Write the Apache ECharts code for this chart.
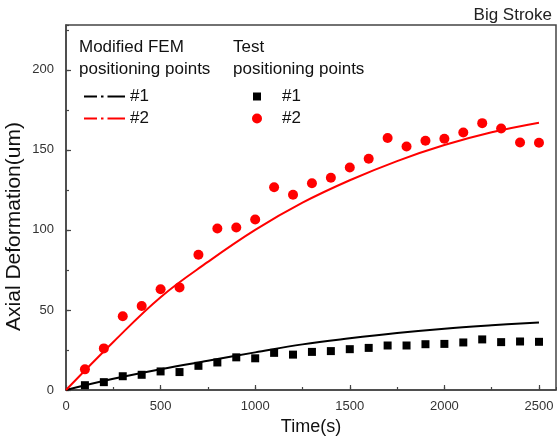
<!DOCTYPE html>
<html>
<head>
<meta charset="utf-8">
<script src="https://cdn.jsdelivr.net/npm/echarts@6/dist/echarts.min.js"></script>
<style>html,body{margin:0;padding:0;background:#fff;}#c{width:557px;height:446px;}</style>
</head>
<body>
<div id="c"></div>
<script>
// ---- data ----
const femTime = [0, 250, 500, 750, 1000, 1250, 1500, 1750, 2000, 2250, 2500];
const femP1 = [0, 7, 13, 18.3, 23.5, 28.5, 32.3, 35.6, 38.3, 40.4, 42.2];
const femP2 = [0, 30, 58, 80, 100, 117, 131, 143, 153, 161, 167];
const testTime = [100, 200, 300, 400, 500, 600, 700, 800, 900, 1000, 1100, 1200, 1300, 1400, 1500, 1600, 1700, 1800, 1900, 2000, 2100, 2200, 2300, 2400, 2500];
const testP1 = [3, 4.9, 8.6, 9.5, 11.6, 11.2, 15.1, 17.2, 20.4, 19.8, 23.2, 22.1, 23.8, 24.3, 25.5, 26.3, 27.8, 27.8, 28.6, 28.8, 29.7, 31.6, 29.9, 30.3, 30.1];
const testP2 = [12.9, 26, 46.1, 52.5, 62.9, 64.1, 84.5, 100.9, 101.5, 106.5, 126.6, 122, 129.1, 132.6, 139, 144.5, 157.4, 152.1, 155.7, 156.9, 160.8, 166.7, 163.3, 154.6, 154.4];
const xTicks = [0, 500, 1000, 1500, 2000, 2500];
const yTicks = [0, 50, 100, 150, 200];
const seriesNames = ['FEM #1', 'FEM #2', 'Test #1', 'Test #2'];
const colHeaders = ['Modified FEM\npositioning points', 'Test\npositioning points'];
const chartTitle = 'Big Stroke';
const xName = 'Time(s)';
const yName = 'Axial Deformation(um)';

const FONT = 'Liberation Sans, Arial, sans-serif';
const zip = (a, b) => a.map((v, i) => [v, b[i]]);
const X_MAX = 2590, Y_MAX = 228;

const chart = echarts.init(document.getElementById('c'), null, { renderer: 'canvas' });
const axisCol = '#444';
const shortName = n => n.replace(/^.*\s/, '');
const dashDotIcon = 'path://M0,0h13v2h-13zM17,0h2.5v2h-2.5zM23.5,0h17.5v2h-17.5z';

const option = {
  animation: false,
  backgroundColor: '#fff',
  title: {
    text: chartTitle, right: 0, top: 2,
    textStyle: { fontFamily: FONT, fontSize: 17, fontWeight: 'normal', color: '#222' }
  },
  grid: { left: 66, right: 1, top: 25, bottom: 56, show: true, borderColor: axisCol, borderWidth: 1.5,
    backgroundColor: 'transparent', containLabel: false, outerBoundsMode: 'none' },
  graphic: [
    { type: 'text', left: 79, top: 36, style: { text: colHeaders[0], fontSize: 17, fontFamily: FONT, lineHeight: 22.5, fill: '#111' } },
    { type: 'text', left: 233, top: 36, style: { text: colHeaders[1], fontSize: 17, fontFamily: FONT, lineHeight: 22.5, fill: '#111' } }
  ],
  legend: [
    {
      data: [{ name: seriesNames[0], icon: dashDotIcon }, { name: seriesNames[1], icon: dashDotIcon }],
      orient: 'vertical', left: 79, top: 83, itemGap: 5,
      itemWidth: 41, itemHeight: 2, formatter: shortName,
      textStyle: { fontFamily: FONT, fontSize: 17, color: '#111' }
    },
    {
      data: [{ name: seriesNames[2], icon: 'rect' }], left: 248, top: 83,
      itemWidth: 8, itemHeight: 8, formatter: shortName,
      textStyle: { fontFamily: FONT, fontSize: 17, color: '#111', padding: [0, 0, 0, 16] }
    },
    {
      data: [{ name: seriesNames[3], icon: 'circle' }], left: 247, top: 105,
      itemWidth: 10, itemHeight: 10, formatter: shortName,
      textStyle: { fontFamily: FONT, fontSize: 17, color: '#111', padding: [0, 0, 0, 15] }
    }
  ],
  xAxis: [
    {
      type: 'value', min: 0, max: X_MAX, interval: 500, position: 'bottom',
      name: xName, nameLocation: 'middle', nameGap: 28,
      nameTextStyle: { fontFamily: FONT, fontSize: 18, color: '#111' },
      axisLine: { show: true, lineStyle: { color: axisCol, width: 1.5 } },
      axisTick: { show: true, inside: true, length: 5, lineStyle: { color: axisCol, width: 1.2 } },
      axisLabel: { margin: 10, fontFamily: FONT, fontSize: 13, color: '#333', showMaxLabel: false,
        formatter: v => (xTicks.indexOf(v) >= 0 ? String(v) : '') },
      splitLine: { show: false }
    },
    {
      type: 'value', min: 0, max: X_MAX, interval: 250, position: 'bottom',
      axisLine: { show: false },
      axisTick: { show: true, inside: true, length: 3, lineStyle: { color: axisCol, width: 1.2 } },
      axisLabel: { show: false }, splitLine: { show: false }
    }
  ],
  yAxis: [
    {
      type: 'value', min: 0, max: Y_MAX, interval: 50, position: 'left',
      name: yName, nameLocation: 'middle', nameGap: 41, nameRotate: 90, nameMoveOverlap: false,
      nameTextStyle: { fontFamily: FONT, fontSize: 21, color: '#111', padding: [0, 38, 0, 0] },
      axisLine: { show: true, lineStyle: { color: axisCol, width: 1.5 } },
      axisTick: { show: true, inside: true, length: 5, lineStyle: { color: axisCol, width: 1.2 } },
      axisLabel: { margin: 12, fontFamily: FONT, fontSize: 13, color: '#333', showMaxLabel: false,
        formatter: v => (yTicks.indexOf(v) >= 0 ? String(v) : '') },
      splitLine: { show: false }
    },
    {
      type: 'value', min: 0, max: Y_MAX, interval: 25, position: 'left',
      axisLine: { show: false },
      axisTick: { show: true, inside: true, length: 3, lineStyle: { color: axisCol, width: 1.2 } },
      axisLabel: { show: false }, splitLine: { show: false }
    }
  ],
  series: [
    {
      name: seriesNames[0], type: 'line', xAxisIndex: 0, yAxisIndex: 0,
      data: zip(femTime, femP1), smooth: 0.4, showSymbol: false, symbol: 'none',
      lineStyle: { color: '#000', width: 2 }, itemStyle: { color: '#000' }, z: 3
    },
    {
      name: seriesNames[1], type: 'line', xAxisIndex: 0, yAxisIndex: 0,
      data: zip(femTime, femP2), smooth: 0.4, showSymbol: false, symbol: 'none',
      lineStyle: { color: '#ff0000', width: 2 }, itemStyle: { color: '#ff0000' }, z: 3
    },
    {
      name: seriesNames[2], type: 'scatter', xAxisIndex: 0, yAxisIndex: 0,
      data: zip(testTime, testP1), symbol: 'rect', symbolSize: 8,
      itemStyle: { color: '#000', opacity: 1 }, z: 4
    },
    {
      name: seriesNames[3], type: 'scatter', xAxisIndex: 0, yAxisIndex: 0,
      data: zip(testTime, testP2), symbol: 'circle', symbolSize: 10,
      itemStyle: { color: '#ff0000', opacity: 1 }, z: 4
    }
  ]
};
chart.setOption(option);
</script>
</body>
</html>
